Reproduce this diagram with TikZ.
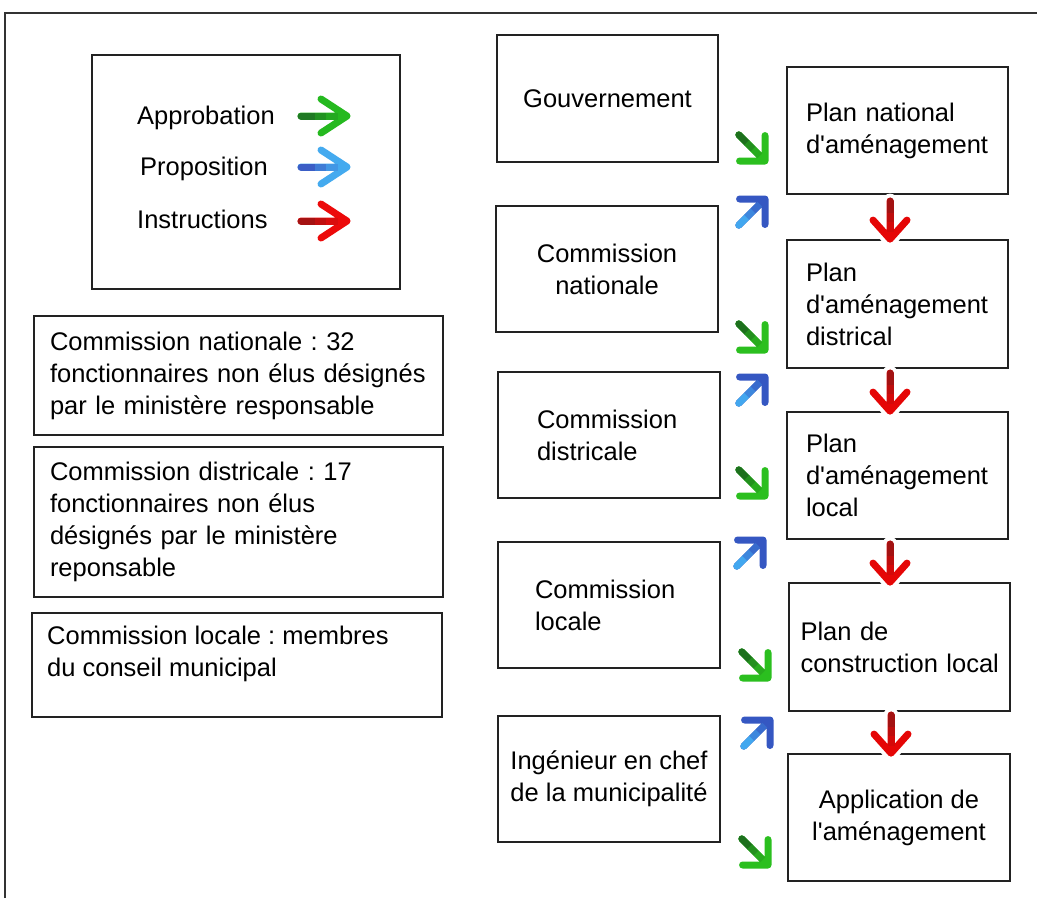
\documentclass[tikz,border=0pt]{standalone}
\usepackage{fontspec}
\setmainfont{Liberation Sans}
\usetikzlibrary{calc}
\definecolor{boxc}{HTML}{222222}
\definecolor{framec}{HTML}{333333}
\definecolor{lgtail}{HTML}{1F7A23}
\definecolor{lghead}{HTML}{25B91F}
\definecolor{lbtail}{HTML}{3B5EC6}
\definecolor{lbhead}{HTML}{44AAEF}
\definecolor{lrtail}{HTML}{A51212}
\definecolor{lrhead}{HTML}{EC0A0A}
\definecolor{gtail}{HTML}{1D701D}
\definecolor{ghead}{HTML}{2BBF1F}
\definecolor{btail}{HTML}{42A7EF}
\definecolor{bhead}{HTML}{3557C2}
\definecolor{rtail}{HTML}{A31212}
\definecolor{rhead}{HTML}{E50606}
\newcommand\dfont{\fontsize{25.5}{32}\selectfont\frenchspacing\hyphenpenalty=10000\relax}
\newcommand\q{\textquotesingle}
\newcommand\iconarrow[7]{%
 \begin{scope}[shift={#1},rotate=#2]
  \draw[line width=7pt,line cap=round,line join=round,draw=#7] (-#3,0) -- (0,0) (-#4,#5) -- (0,0) -- (-#4,-#5);
  \draw[line width=7pt,line cap=round,draw=#6] (-#3,0) -- ({-0.7*#3},0);
  \draw[line width=7pt,draw=#6!60!#7] ({-0.7*#3},0) -- ({-0.45*#3},0);
  \draw[line width=7pt,draw=#6!25!#7] ({-0.45*#3},0) -- ({-0.2*#3},0);
 \end{scope}}
\newcommand\haloarrow[7]{%
 \begin{scope}[shift={#1},rotate=#2]
  \draw[line width=15pt,line cap=round,line join=round,white] (-#3,0) -- (0,0) (-#4,#5) -- (0,0) -- (-#4,-#5);
 \end{scope}\iconarrow{#1}{#2}{#3}{#4}{#5}{#6}{#7}}
\begin{document}
\begin{tikzpicture}[x=1pt,y=-1pt,
  box/.style={draw=boxc,line width=1.8pt,inner sep=0pt,font=\dfont,text=black},
  txt/.style={inner sep=0pt,font=\dfont,text=black}]
\useasboundingbox (0,0) rectangle (1037,898);
\fill[white] (0,0) rectangle (1037,898);
\draw[draw=framec,line width=2pt] (5,898) -- (5,13) -- (1037,13);

% legend
\node[box,minimum width=308pt,minimum height=234pt] (legend) at (246,172) {};
\node[txt,anchor=base west] (lapp) at (137,124) {Approbation};
\node[txt,anchor=base west] (lprop) at (140,175) {Proposition};
\node[txt,anchor=base west] (linst) at (137,228) {Instructions};
\iconarrow{(347,116)}{0}{46}{26}{17}{lgtail}{lghead}
\iconarrow{(347,167)}{0}{46}{26}{17}{lbtail}{lbhead}
\iconarrow{(347,221)}{0}{46}{26}{17}{lrtail}{lrhead}

% left descriptions
\node[box,minimum width=409pt,minimum height=119pt,text width=377pt,align=left] (L1) at (238.5,375.5)
  {Commission nationale : 32\\fonctionnaires non élus désignés\\par le ministère responsable};
\node[box,minimum width=409pt,minimum height=150pt,text width=377pt,align=left] (L2) at (238.5,522)
  {Commission districale : 17\\fonctionnaires non élus\\désignés par le ministère\\reponsable};
\node[box,minimum width=410pt,minimum height=104pt] (L3) at (237,665) {};
\node[txt,anchor=north west,align=left] (L3t) at (47,626)
  {Commission locale : membres\\du conseil municipal};

% middle column
\node[box,minimum width=221pt,minimum height=127pt] (M1) at (607.5,98.5) {Gouvernement};
\node[box,minimum width=222pt,minimum height=126pt,align=center] (M2) at (607,269) {Commission\\nationale};
\node[box,minimum width=222pt,minimum height=126pt,text width=144pt,align=left] (M3) at (609,435) {Commission\\districale};
\node[box,minimum width=222pt,minimum height=126pt,text width=148pt,align=left] (M4) at (609,605) {Commission\\locale};
\node[box,minimum width=222pt,minimum height=126pt,align=center] (M5) at (609,779) {Ingénieur en chef\\de la municipalité};

% right column
\node[box,minimum width=221pt,minimum height=127pt,text width=183pt,align=left] (R1) at (897.5,130.5) {Plan national\\d\q aménagement};
\node[box,minimum width=221pt,minimum height=128pt,text width=183pt,align=left] (R2) at (897.5,304) {Plan\\d\q aménagement\\districal};
\node[box,minimum width=221pt,minimum height=127pt,text width=183pt,align=left] (R3) at (897.5,475.5) {Plan\\d\q aménagement\\local};
\node[box,minimum width=221pt,minimum height=128pt,text width=198pt,align=left] (R4) at (899.5,647) {Plan de\\\mbox{construction local}};
\node[box,minimum width=222pt,minimum height=127pt,align=center] (R5) at (899,817.5) {Application de\\l\q aménagement};

% instructions (red, downwards)
\haloarrow{(890,0 |- R2.north)}{-90}{38}{19}{17}{rtail}{rhead}
\haloarrow{(890,0 |- R3.north)}{-90}{38}{19}{17}{rtail}{rhead}
\haloarrow{(890,0 |- R4.north)}{-90}{38}{19}{17}{rtail}{rhead}
\haloarrow{(891,0 |- R5.north)}{-90}{38}{19}{17}{rtail}{rhead}

% approbation (green, down-right)
\iconarrow{(765,161)}{-45}{37}{18}{18}{gtail}{ghead}
\iconarrow{(765,350)}{-45}{37}{18}{18}{gtail}{ghead}
\iconarrow{(765,496)}{-45}{37}{18}{18}{gtail}{ghead}
\iconarrow{(768,678)}{-45}{37}{18}{18}{gtail}{ghead}
\iconarrow{(768,865)}{-45}{37}{18}{18}{gtail}{ghead}

% proposition (blue, up-right)
\iconarrow{(765,199)}{45}{37}{18}{18}{btail}{bhead}
\iconarrow{(765,377)}{45}{37}{18}{18}{btail}{bhead}
\iconarrow{(763,540)}{45}{37}{18}{18}{btail}{bhead}
\iconarrow{(770,720)}{45}{37}{18}{18}{btail}{bhead}
\end{tikzpicture}
\end{document}
